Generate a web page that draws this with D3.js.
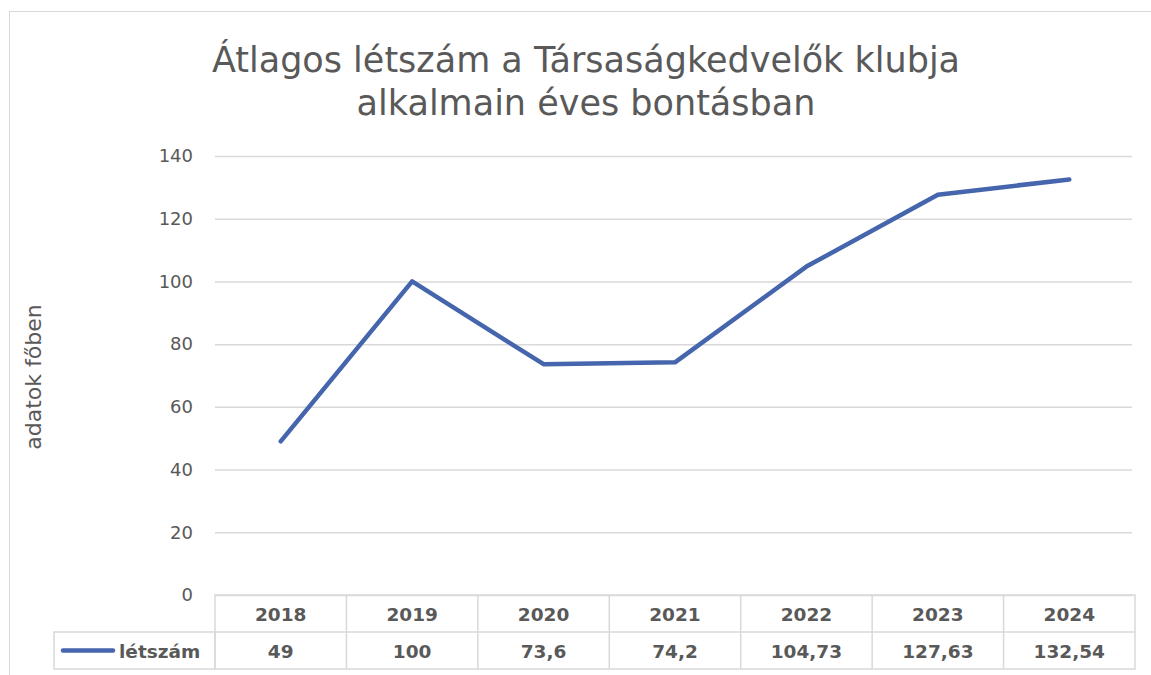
<!DOCTYPE html>
<html>
<head>
<meta charset="utf-8">
<script src="https://cdn.jsdelivr.net/npm/d3@7"></script>
<style>
  body { margin: 0; background: #fff; }
  svg { display: block; font-family: "DejaVu Sans", sans-serif; }
</style>
</head>
<body>
<svg id="chart" width="1151" height="675"></svg>
<script>
const YEARS = ['2018', '2019', '2020', '2021', '2022', '2023', '2024']
const VALUES = [49, 100, 73.6, 74.2, 104.73, 127.63, 132.54]
const LABELS = ['49', '100', '73,6', '74,2', '104,73', '127,63', '132,54']
const Y_TICKS = [0, 20, 40, 60, 80, 100, 120, 140]
const SERIES_NAME = 'létszám'
const TITLE = ['Átlagos létszám a Társaságkedvelők klubja', 'alkalmain éves bontásban']
const Y_TITLE = 'adatok főben'

const grey = '#595959'
const gridColor = '#d9d9d9'
const lineColor = '#4565ad'

const svg = d3.select('#chart')

// chart area border (runs off the right and bottom edge)
svg.append('rect')
  .attr('x', 9.5).attr('y', 11.5)
  .attr('width', 1200).attr('height', 700)
  .attr('fill', 'none').attr('stroke', gridColor)

const plot = { left: 215, right: 1135, top: 156, bottom: 595 }

const x = d3.scaleBand().domain(YEARS).range([plot.left, plot.right])
const y = d3.scaleLinear().domain([0, 140]).range([plot.bottom, plot.top])

// title
svg.append('g').selectAll('text').data(TITLE).join('text')
  .attr('x', 586).attr('y', (d, i) => 72 + i * 43)
  .attr('text-anchor', 'middle')
  .attr('fill', grey).attr('font-size', 35)
  .text(d => d)

// gridlines + y labels
const yAxis = d3.axisLeft(y).tickValues(Y_TICKS).tickSize(-(plot.right - plot.left - 3)).tickPadding(22)
const gy = svg.append('g').attr('transform', `translate(${plot.left},0)`).call(yAxis)
gy.select('.domain').remove()
gy.selectAll('.tick line').attr('stroke', gridColor).attr('stroke-width', 1.5)
gy.selectAll('.tick text').attr('fill', grey).attr('font-size', 18)
  .attr('dy', '0.32em')
  .style('font-family', '"DejaVu Sans", sans-serif')

// y title
svg.append('text')
  .attr('transform', `translate(41,377) rotate(-90)`)
  .attr('text-anchor', 'middle')
  .attr('fill', grey).attr('font-size', 22)
  .text(Y_TITLE)

// line
const line = d3.line()
  .x((d, i) => x(YEARS[i]) + x.bandwidth() / 2)
  .y(d => y(d))
svg.append('path')
  .datum(VALUES)
  .attr('d', line)
  .attr('fill', 'none')
  .attr('stroke', lineColor)
  .attr('stroke-width', 4.5)
  .attr('stroke-linejoin', 'round')
  .attr('stroke-linecap', 'round')

// data table
const rowH = 37
const table = svg.append('g').attr('stroke', gridColor).attr('stroke-width', 1.5).attr('fill', 'none')
table.append('rect').attr('x', plot.left).attr('y', plot.bottom).attr('width', plot.right - plot.left).attr('height', rowH * 2)
table.append('rect').attr('x', 54).attr('y', plot.bottom + rowH).attr('width', plot.left - 54).attr('height', rowH)
table.append('line').attr('x1', plot.left).attr('x2', plot.right).attr('y1', plot.bottom + rowH).attr('y2', plot.bottom + rowH)
table.selectAll('.col').data(YEARS.slice(1)).join('line')
  .attr('x1', d => x(d)).attr('x2', d => x(d))
  .attr('y1', plot.bottom).attr('y2', plot.bottom + rowH * 2)

const cellFont = '"DejaVu Sans", sans-serif'
const cellText = svg.append('g')
  .attr('fill', grey).attr('font-size', 18.5).attr('font-weight', 'bold')
  .attr('text-anchor', 'middle')
  .style('font-family', cellFont)
cellText.selectAll('.yr').data(YEARS).join('text')
  .attr('x', d => x(d) + x.bandwidth() / 2)
  .attr('y', plot.bottom + rowH / 2 + 7)
  .text(d => d)
cellText.selectAll('.val').data(LABELS).join('text')
  .attr('x', (d, i) => x(YEARS[i]) + x.bandwidth() / 2)
  .attr('y', plot.bottom + rowH * 1.5 + 7)
  .text(d => d)

// legend key
svg.append('line')
  .attr('x1', 63).attr('x2', 113)
  .attr('y1', plot.bottom + rowH * 1.5).attr('y2', plot.bottom + rowH * 1.5)
  .attr('stroke', lineColor).attr('stroke-width', 4.5).attr('stroke-linecap', 'round')
svg.append('text')
  .attr('x', 119).attr('y', plot.bottom + rowH * 1.5 + 7)
  .attr('fill', grey).attr('font-size', 18.5).attr('font-weight', 'bold')
  .style('font-family', cellFont)
  .text(SERIES_NAME)
</script>
</body>
</html>
